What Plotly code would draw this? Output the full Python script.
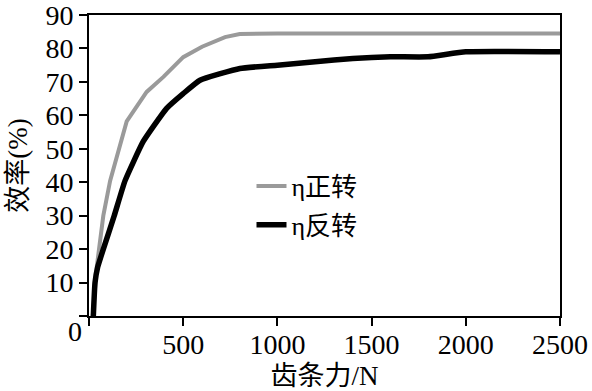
import plotly.graph_objects as go

# Data
x_fwd = [20, 41, 76, 112, 200, 306, 395, 500, 600, 722, 800, 1000, 1500, 2000, 2500]
y_fwd = [0, 14.6, 30, 40.4, 58.2, 67, 71.5, 77.4, 80.5, 83.4, 84.3, 84.5, 84.5, 84.5, 84.5]

x_rev = [23, 32, 46, 76, 134, 191, 288, 412, 500, 589, 801, 1000, 1200, 1400, 1600, 1800, 2000, 2500]
y_rev = [0, 10, 14.6, 20, 30, 40.4, 52.2, 62.1, 66.5, 70.5, 74, 75, 76, 77, 77.5, 77.5, 79, 79]

name_fwd = "η正转"
name_rev = "η反转"

x_ticks = [0, 500, 1000, 1500, 2000, 2500]
x_ticklabels = ["", "500", "1000", "1500", "2000", "2500"]
y_ticks = [0, 10, 20, 30, 40, 50, 60, 70, 80, 90]
y_ticklabels = ["", "10", "20", "30", "40", "50", "60", "70", "80", "90"]

x_title = "齿条力/N"
y_title = "效率(%)"

NUM_FONT = "Liberation Serif, Times New Roman, serif"
FONT = "Liberation Serif, Times New Roman, Noto Sans CJK SC, serif"

fig = go.Figure()
fig.add_trace(go.Scatter(x=x_fwd, y=y_fwd, mode="lines", name=name_fwd,
                         legendgroup="a",
                         line=dict(color="#9a9a9a", width=4)))
fig.add_trace(go.Scatter(x=x_rev, y=y_rev, mode="lines", name=name_rev,
                         legendgroup="b",
                         line=dict(color="#000000", width=5.5, shape="spline", smoothing=0.4)))

fig.update_layout(
    width=592, height=391,
    margin=dict(l=89, r=32, t=15, b=75),
    paper_bgcolor="white", plot_bgcolor="white",
    font=dict(family=FONT, size=26, color="black"),
    showlegend=True,
    legend=dict(x=0.345, y=0.51, xanchor="left", yanchor="top",
                bgcolor="rgba(0,0,0,0)", tracegroupgap=2,
                font=dict(family=FONT, size=26, color="black")),
    xaxis=dict(range=[0, 2500], tickvals=x_ticks, ticktext=x_ticklabels,
               showgrid=False, zeroline=False, showline=True, linecolor="black",
               linewidth=2, mirror=True, ticks="outside", ticklen=8, tickwidth=2,
               tickcolor="black", automargin=False, ticklabeloverflow="allow",
               ticklabelstandoff=-6,
               tickfont=dict(family=NUM_FONT, size=28, color="black"),
               title=dict(text=x_title, standoff=8,
                          font=dict(family=FONT, size=27, color="black"))),
    yaxis=dict(range=[0, 90], tickvals=y_ticks, ticktext=y_ticklabels,
               showgrid=False, zeroline=False, showline=True, linecolor="black",
               linewidth=2, mirror=True, ticks="outside", ticklen=8, tickwidth=2,
               tickcolor="black", automargin=False, ticklabeloverflow="allow",
               tickfont=dict(family=NUM_FONT, size=28, color="black"),
               title=dict(text=y_title, standoff=10,
                          font=dict(family=FONT, size=27, color="black"))),
)

fig.add_annotation(text="0", xref="paper", yref="paper",
                   x=-0.03, y=-0.053, xanchor="center", yanchor="middle",
                   showarrow=False, font=dict(family=NUM_FONT, size=28, color="black"))

fig.write_html("out.html")
